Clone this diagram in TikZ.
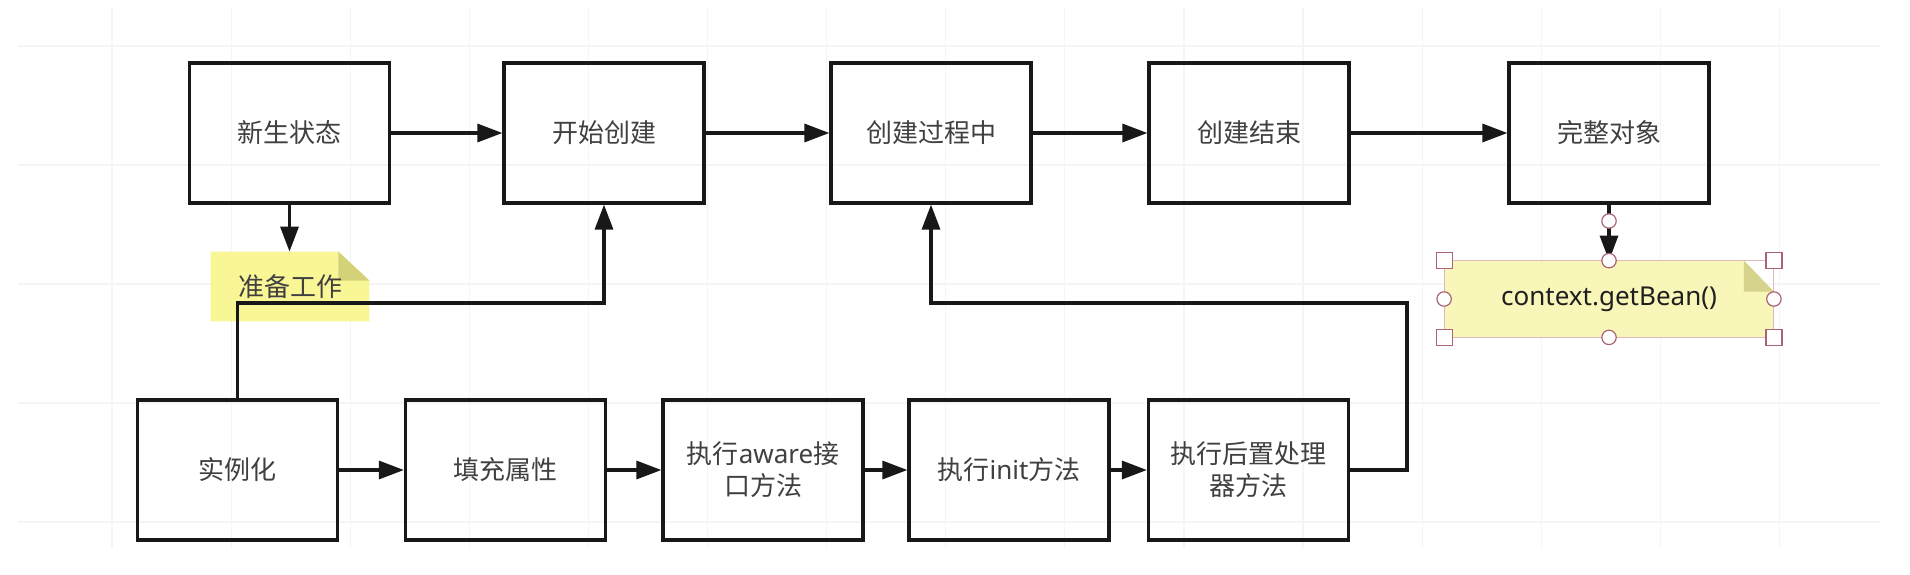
\documentclass[tikz,border=0pt]{standalone}
\usepackage{fontspec}
\setmainfont{Noto Sans CJK SC}
\newfontfamily\latf{Noto Sans}
\usetikzlibrary{arrows.meta,backgrounds,calc}
\definecolor{edgec}{RGB}{24,24,24}
\definecolor{txtc}{RGB}{64,64,64}
\definecolor{gridc}{RGB}{245,245,245}
\definecolor{noteA}{RGB}{249,246,150}
\definecolor{foldA}{RGB}{212,210,120}
\definecolor{noteB}{RGB}{248,246,184}
\definecolor{foldB}{RGB}{214,212,140}
\definecolor{selc}{RGB}{170,100,115}
\definecolor{selline}{RGB}{222,185,190}
\begin{document}
\begin{tikzpicture}[x=0.5pt,y=-0.5pt,
  stepbox/.style={draw=edgec, line width=1.6pt, minimum width=100pt, minimum height=70pt,
    inner sep=0pt, font=\fontsize{13pt}{16pt}\selectfont, text=txtc, align=center},
  arr/.style={line width=1.6pt, draw=edgec, -{Triangle[length=12.5pt,width=9pt]}},
  gridl/.style={draw=gridc, line width=0.6pt},
  notetxt/.style={inner sep=0pt, font=\fontsize{13pt}{16pt}\selectfont, text=txtc},
  hsq/.style={draw=selc, fill=white, line width=0.6pt, rectangle, minimum size=8pt, inner sep=0pt},
  hci/.style={draw=selc, fill=white, line width=0.6pt, circle, minimum size=7.2pt, inner sep=0pt}
]
\useasboundingbox (0,0) rectangle (1910,574);
\begin{scope}[on background layer]
  \fill[white] (0,0) rectangle (1910,574);
  \foreach \k in {0,...,14} \draw[gridl] ({112+119.1*\k},8) -- ({112+119.1*\k},548);
  \foreach \k in {0,...,4} \draw[gridl] (18,{46+119*\k}) -- (1880,{46+119*\k});
\end{scope}

% top row
\node[stepbox] (A) at (289.5,133) {新生状态};
\node[stepbox] (B) at (604,133) {开始创建};
\node[stepbox] (C) at (931,133) {创建过程中};
\node[stepbox] (D) at (1249,133) {创建结束};
\node[stepbox] (E) at (1609,133) {完整对象};

% bottom row
\node[stepbox] (F) at (237.5,470) {实例化};
\node[stepbox] (G) at (505.5,470) {填充属性};
\node[stepbox] (H) at (763,470) {执行{\latf aware}接\\口方法};
\node[stepbox] (I) at (1009,470) {执行{\latf init}方法};
\node[stepbox] (J) at (1248.5,470) {执行后置处理\\器方法};

% note: preparation
\node[notetxt, minimum width=79pt, minimum height=34.5pt] (prep) at (290,286.5) {\raisebox{-1pt}{准备工作}};
\begin{scope}[on background layer]
  \fill[noteA] (prep.north west) -- ($(prep.north east)+(-31,0)$) -- ($(prep.north east)+(0,29)$)
    -- (prep.south east) -- (prep.south west) -- cycle;
  \fill[foldA] ($(prep.north east)+(-31,0)$) -- ($(prep.north east)+(-31,29)$) -- ($(prep.north east)+(0,29)$) -- cycle;
\end{scope}

% note: getBean
\node[notetxt, text=black!88, font=\latf\fontsize{13pt}{16pt}\selectfont, minimum width=164.5pt, minimum height=38pt] (bean) at (1609,299) {\raisebox{-1.5pt}{context.getBean()}};
\begin{scope}[on background layer]
  \fill[noteB] (bean.north west) -- ($(bean.north east)+(-30,0)$) -- ($(bean.north east)+(0,31)$)
    -- (bean.south east) -- (bean.south west) -- cycle;
  \fill[foldB] ($(bean.north east)+(-30,0)$) -- ($(bean.north east)+(-30,31)$) -- ($(bean.north east)+(0,31)$) -- cycle;
  \draw[selline, line width=0.5pt] (bean.north west) rectangle (bean.south east);
\end{scope}

% connectors
\draw[arr] (A) -- (B);
\draw[arr] (B) -- (C);
\draw[arr] (C) -- (D);
\draw[arr] (D) -- (E);
\draw[arr] (F) -- (G);
\draw[arr] (G) -- (H);
\draw[arr] (H) -- (I);
\draw[arr] (I) -- (J);
\draw[arr] (A.south) -- (A.south |- prep.north);
\draw[arr] (F.north) -- (F.north |- 0,303) -| (B.south);
\draw[arr] (J.east) -| (1407,303) -| (C.south);
\draw[arr] (E.south) -- (bean.north);

% selection handles
\node[hci] (h0) at (1609,221) {};
\node[hsq] (h1) at (bean.north west) {};
\node[hsq] (h2) at (bean.north east) {};
\node[hsq] (h3) at (bean.south west) {};
\node[hsq] (h4) at (bean.south east) {};
\node[hci] (h5) at (bean.north) {};
\node[hci] (h6) at (bean.south) {};
\node[hci] (h7) at (bean.west) {};
\node[hci] (h8) at (bean.east) {};
\end{tikzpicture}
\end{document}
